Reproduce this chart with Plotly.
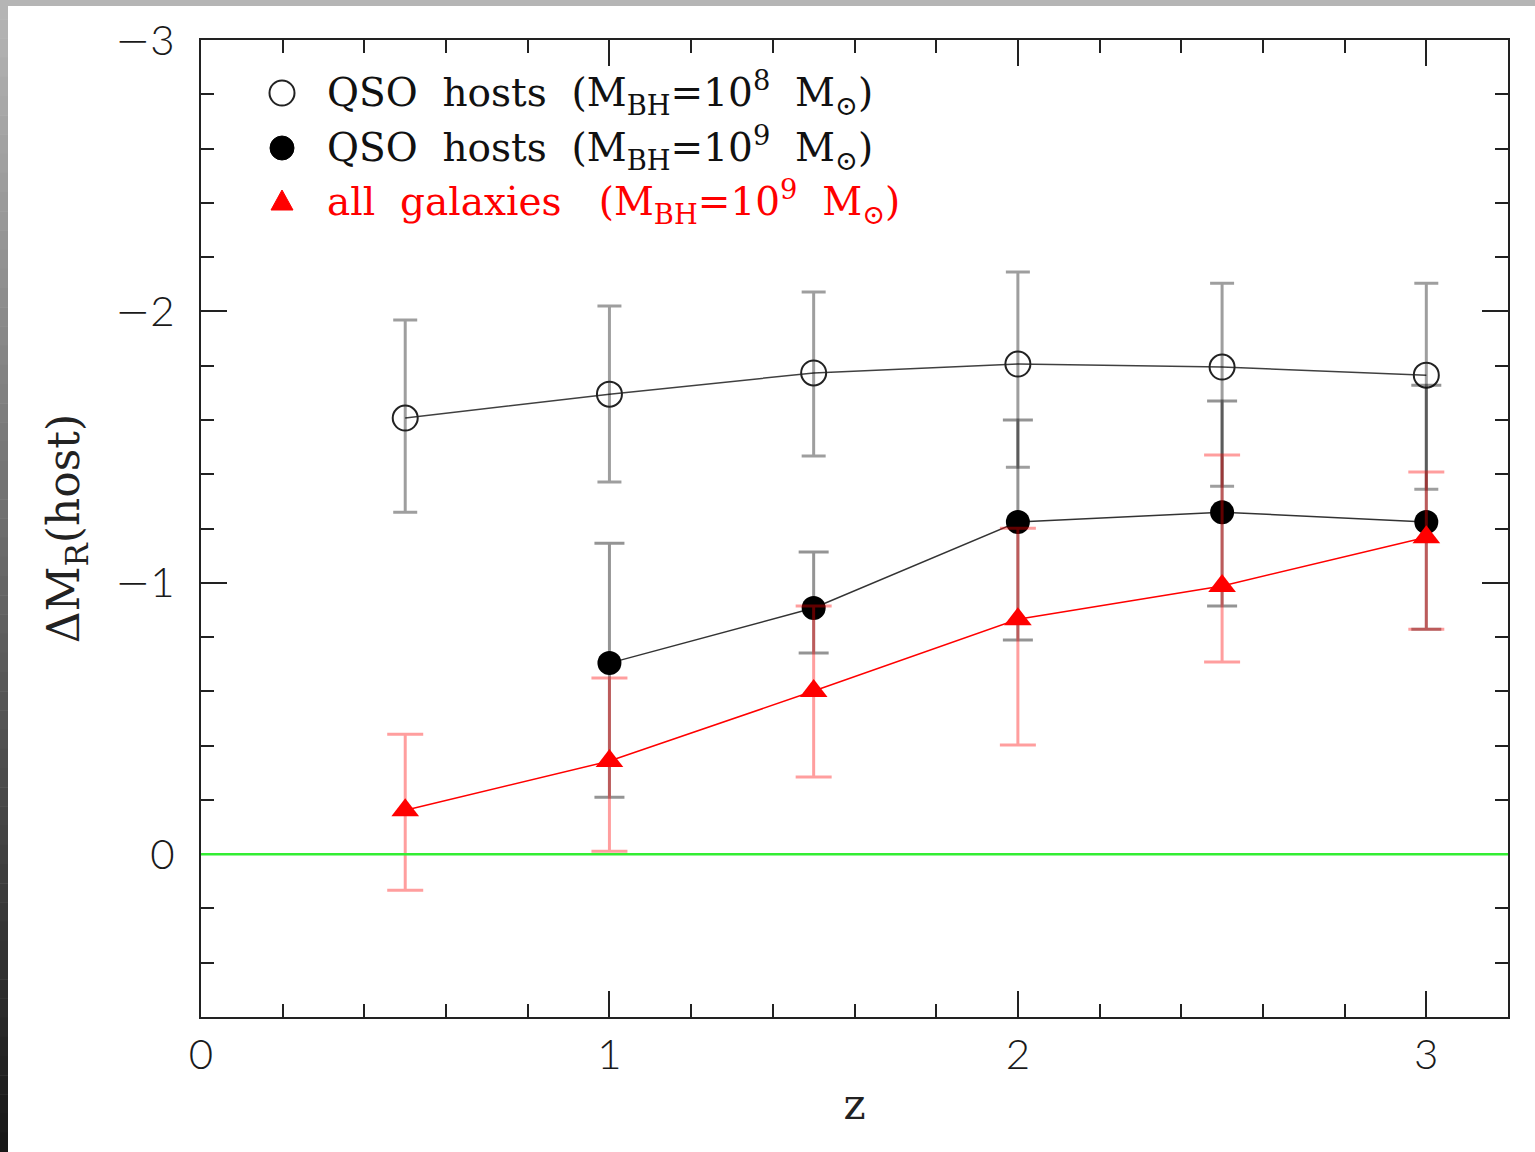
import plotly.graph_objects as go

# Redshift bins
z_open = [0.5, 1.0, 1.5, 2.0, 2.5, 3.0]
z_filled = [1.0, 1.5, 2.0, 2.5, 3.0]
z_all = [0.5, 1.0, 1.5, 2.0, 2.5, 3.0]

# QSO hosts, M_BH = 1e8 Msun
dm_open = [-1.607, -1.695, -1.773, -1.806, -1.795, -1.765]
dm_open_hi = [-1.968, -2.020, -2.071, -2.145, -2.104, -2.104]   # brighter bound
dm_open_lo = [-1.260, -1.371, -1.467, -1.426, -1.356, -1.345]   # fainter bound

# QSO hosts, M_BH = 1e9 Msun
dm_filled = [-0.704, -0.907, -1.224, -1.260, -1.224]
dm_filled_hi = [-1.146, -1.113, -1.600, -1.670, -1.728]
dm_filled_lo = [-0.210, -0.741, -0.789, -0.914, -0.829]

# All galaxies, M_BH = 1e9 Msun
dm_all = [-0.162, -0.343, -0.601, -0.866, -0.988, -1.168]
dm_all_hi = [-0.442, -0.649, -0.914, -1.201, -1.471, -1.408]
dm_all_lo = [0.133, -0.011, -0.284, -0.402, -0.708, -0.829]

x_ticks = [0, 1, 2, 3]
y_ticks = [-3, -2, -1, 0]
MINUS = "<span style=\"font-family:'DejaVu Sans';font-weight:200\">\u2212</span>"
y_ticktext = [MINUS + "3", MINUS + "2", MINUS + "1", "0"]

legend_labels = [
    "QSO  hosts  (M<sub>BH</sub>=10<sup>8</sup>  M<sub>\u2299</sub>)",
    "QSO  hosts  (M<sub>BH</sub>=10<sup>9</sup>  M<sub>\u2299</sub>)",
    "all  galaxies   (M<sub>BH</sub>=10<sup>9</sup>  M<sub>\u2299</sub>)",
]
legend_colors = ["#111111", "#111111", "#ff0000"]

# plot-area geometry in pixels (used to place the key)
W, H = 1535, 1152
ML, MR, MT, MB = 201, 27, 40, 135
PW, PH = W - ML - MR, H - MT - MB


def px_to_paper(px, py):
    return (px - ML) / PW, 1 - (py - MT) / PH


def err_arrays(val, hi, lo):
    # y axis is reversed: 'hi' bound is more negative
    minus = [v - h for v, h in zip(val, hi)]
    plus = [l - v for v, l in zip(val, lo)]
    return plus, minus


fig = go.Figure()

# zero reference line
fig.add_shape(type="line", xref="paper", x0=0, x1=1, yref="y", y0=0, y1=0,
              line=dict(color="#33ee33", width=2.5), layer="above")

p, m = err_arrays(dm_open, dm_open_hi, dm_open_lo)
fig.add_trace(go.Scatter(
    x=z_open, y=dm_open, mode="lines+markers", showlegend=False,
    line=dict(color="rgba(0,0,0,0.75)", width=1.5),
    marker=dict(symbol="circle-open", size=25, color="#222", line=dict(width=2)),
    error_y=dict(type="data", symmetric=False, array=p, arrayminus=m,
                 color="rgba(0,0,0,0.38)", thickness=3, width=12),
))

p, m = err_arrays(dm_filled, dm_filled_hi, dm_filled_lo)
fig.add_trace(go.Scatter(
    x=z_filled, y=dm_filled, mode="lines+markers", showlegend=False,
    line=dict(color="rgba(0,0,0,0.8)", width=1.5),
    marker=dict(symbol="circle", size=24, color="#000"),
    error_y=dict(type="data", symmetric=False, array=p, arrayminus=m,
                 color="rgba(0,0,0,0.42)", thickness=3, width=15),
))

p, m = err_arrays(dm_all, dm_all_hi, dm_all_lo)
fig.add_trace(go.Scatter(
    x=z_all, y=dm_all, mode="lines+markers", showlegend=False,
    line=dict(color="#ff0000", width=1.5),
    marker=dict(symbol="triangle-up", size=24, color="#ff0000"),
    error_y=dict(type="data", symmetric=False, array=p, arrayminus=m,
                 color="rgba(255,0,0,0.38)", thickness=3, width=18),
))

# key: symbols drawn as pixel-sized shapes, labels as annotations
key_x = 282
key_rows = [93, 148, 202]
for i, (label, col) in enumerate(zip(legend_labels, legend_colors)):
    ax, ay = px_to_paper(key_x, key_rows[i])
    common = dict(xref="paper", yref="paper", xsizemode="pixel", ysizemode="pixel",
                  xanchor=ax, yanchor=ay, layer="above")
    if i == 0:
        fig.add_shape(type="circle", x0=-12.5, x1=12.5, y0=-12.5, y1=12.5,
                      line=dict(color="#222", width=2), fillcolor="white", **common)
    elif i == 1:
        fig.add_shape(type="circle", x0=-12, x1=12, y0=-12, y1=12,
                      line=dict(color="#000", width=1), fillcolor="#000", **common)
    else:
        fig.add_shape(type="path", path="M -11 -8 L 11 -8 L 0 12 Z",
                      line=dict(color="#ff0000", width=1), fillcolor="#ff0000", **common)
    tx, ty = px_to_paper(325, key_rows[i])
    fig.add_annotation(x=tx, y=ty, xref="paper", yref="paper", xanchor="left",
                       yanchor="middle", showarrow=False, text=label,
                       font=dict(family="DejaVu Serif", size=39, color=col))

# page frame: grey strip on top, shaded strip on the left
fig.add_shape(type="rect", xref="paper", yref="paper",
              x0=-0.2, x1=1.1, y0=1.0 + 40 / PH, y1=1.0 + 34 / PH,
              fillcolor="#b5b5b5", line=dict(width=0), layer="below")
n_strip = 60
for i in range(n_strip):
    t = i / (n_strip - 1)
    g = int(round(0xb5 + (0x18 - 0xb5) * t))
    y_top = 1.0 + 40 / PH - i * (H / n_strip) / PH
    y_bot = y_top - (H / n_strip) / PH - 0.0005
    fig.add_shape(type="rect", xref="paper", yref="paper",
                  x0=-201 / PW, x1=-193 / PW, y0=y_bot, y1=y_top,
                  fillcolor=f"rgb({g},{g},{g})", line=dict(width=0), layer="below")

axis_common = dict(
    showline=True, linecolor="#222", linewidth=2, mirror="ticks",
    ticks="inside", ticklen=26, tickwidth=2, tickcolor="#222",
    showgrid=False, zeroline=False,
    tickfont=dict(family="Lato", size=42, color="#1a1a1a", weight=300),
)

fig.update_layout(
    width=W, height=H,
    margin=dict(l=ML, r=MR, t=MT, b=MB),
    paper_bgcolor="white", plot_bgcolor="white",
    xaxis=dict(range=[0, 3.2], tickvals=x_ticks,
               minor=dict(tickvals=[i * 0.2 for i in range(17)], ticks="inside",
                          ticklen=13, tickwidth=2, tickcolor="#222"),
               title=dict(text="z", font=dict(family="DejaVu Serif", size=42, color="#222"),
                          standoff=12),
               **axis_common),
    yaxis=dict(range=[0.6, -3], tickvals=y_ticks, ticktext=y_ticktext,
               ticklabelstandoff=16,
               minor=dict(tickvals=[-3 + i * 0.2 for i in range(19)], ticks="inside",
                          ticklen=13, tickwidth=2, tickcolor="#222"),
               title=dict(text="\u0394M<sub>R</sub>(host)",
                          font=dict(family="DejaVu Serif", size=44, color="#222"),
                          standoff=22),
               **axis_common),
    showlegend=False,
)

fig.write_html("out.html")
